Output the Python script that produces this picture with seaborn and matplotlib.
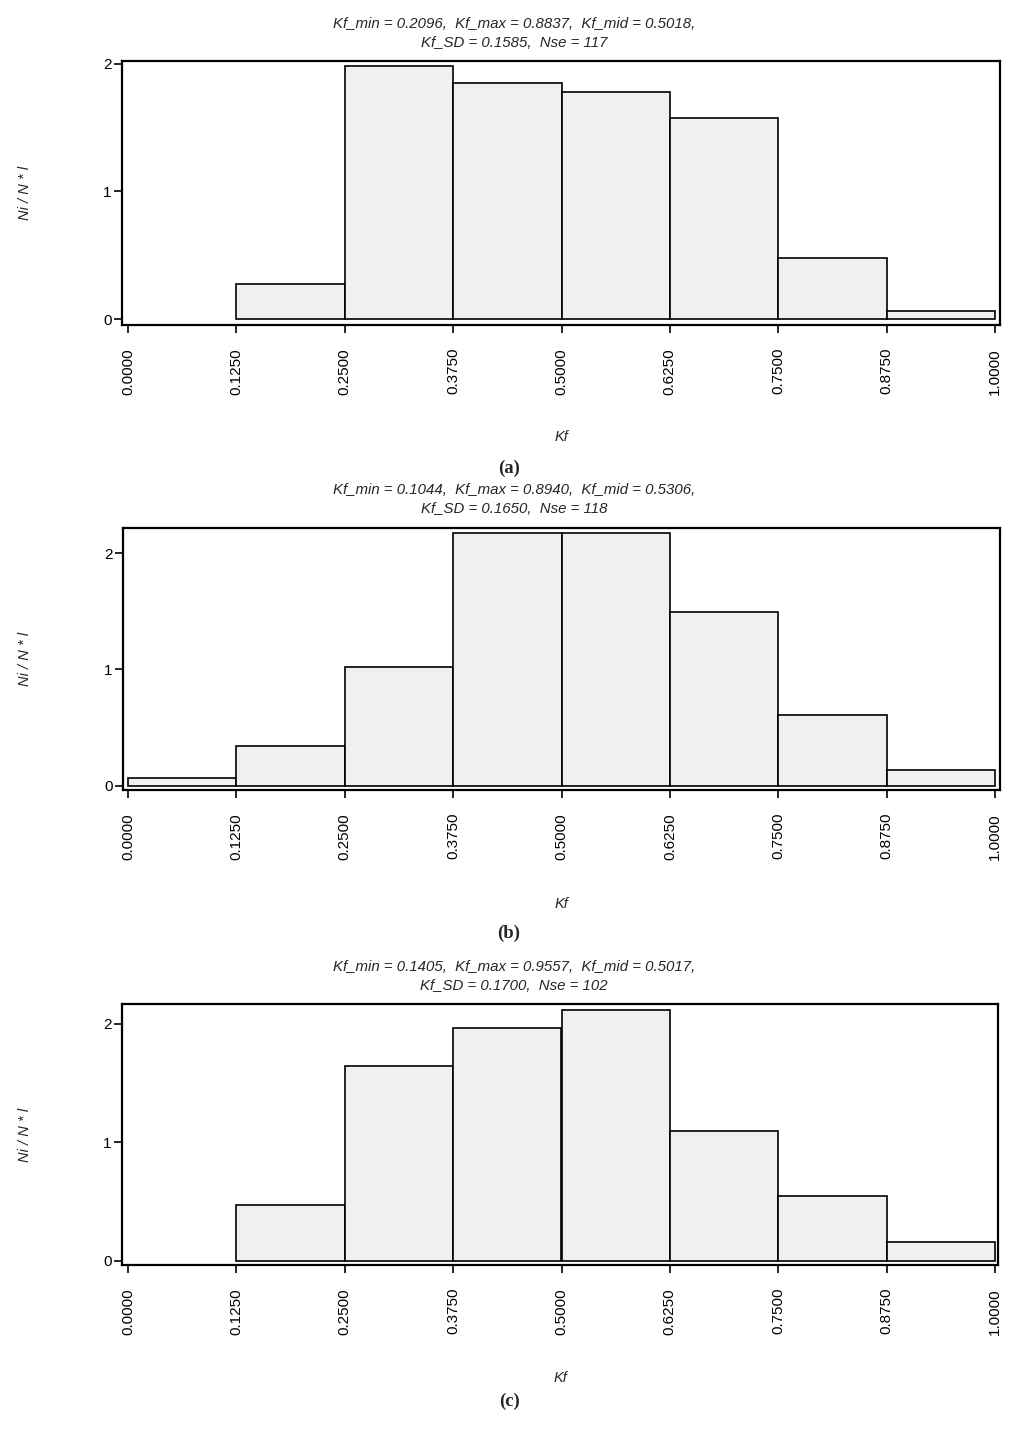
import numpy as np
import pandas as pd
import matplotlib
matplotlib.use("Agg")
import matplotlib.pyplot as plt
import seaborn as sns

# ---- data ----
bin_edges = [0.0, 0.125, 0.25, 0.375, 0.5, 0.625, 0.75, 0.875, 1.0]
tick_labels = ["0.0000", "0.1250", "0.2500", "0.3750", "0.5000",
               "0.6250", "0.7500", "0.8750", "1.0000"]
counts_a = [0, 4, 29, 27, 26, 23, 7, 1]
counts_b = [1, 5, 15, 32, 32, 22, 9, 2]
counts_c = [0, 6, 21, 25, 27, 14, 7, 2]
title_a = ["Kf_min = 0.2096,  Kf_max = 0.8837,  Kf_mid = 0.5018,",
           "Kf_SD = 0.1585,  Nse = 117"]
title_b = ["Kf_min = 0.1044,  Kf_max = 0.8940,  Kf_mid = 0.5306,",
           "Kf_SD = 0.1650,  Nse = 118"]
title_c = ["Kf_min = 0.1405,  Kf_max = 0.9557,  Kf_mid = 0.5017,",
           "Kf_SD = 0.1700,  Nse = 102"]
panel_tags = ["(a)", "(b)", "(c)"]

sns.set_style("ticks")
plt.rcParams["font.family"] = ["Liberation Sans", "DejaVu Sans"]

W, H = 1024, 1432
fig = plt.figure(figsize=(W / 100, H / 100), dpi=100)

# pixel layout: (frame_left, frame_right, frame_top, frame_bottom, ylim_top, ylim_bot, title_y, xlabel_y, tag_y)
layouts = [
    (122, 1000, 61, 325, 2.021, -0.045, 24, 437, 468),
    (123, 1000, 528, 790, 2.215, -0.037, 490, 904, 933),
    (122, 998, 1004, 1265, 2.166, -0.034, 967, 1378, 1401),
]
all_counts = [counts_a, counts_b, counts_c]
titles = [title_a, title_b, title_c]

centers = [(bin_edges[i] + bin_edges[i + 1]) / 2 for i in range(len(bin_edges) - 1)]

for k, (lay, counts, ttl, tag) in enumerate(zip(layouts, all_counts, titles, panel_tags)):
    fl, fr, ft, fb, ytop, ybot, ty, xly, tgy = lay
    ax = fig.add_axes([fl / W, 1 - fb / H, (fr - fl) / W, (fb - ft) / H])
    df = pd.DataFrame({"Kf": centers, "n": counts})
    sns.histplot(data=df, x="Kf", weights="n", bins=bin_edges, stat="density",
                 ax=ax, color="#f0f0f0", edgecolor="black", linewidth=1.2, alpha=1)
    for p in list(ax.patches):
        if p.get_height() == 0:
            p.remove()
    # x-range such that 0 and 1 sit at the measured pixels
    x0px, x1px = 128, 995
    per = (x1px - x0px)
    ax.set_xlim(-(x0px - fl) / per, 1 + (fr - x1px) / per)
    ax.set_ylim(ybot, ytop)
    ax.set_xticks(bin_edges)
    ax.set_xticklabels(tick_labels, rotation=90, fontsize=11)
    ax.set_yticks([0, 1, 2])
    ax.set_yticklabels(["0", "1", "2"], fontsize=11)
    ax.tick_params(axis="x", length=5.5, width=1.2, pad=11, colors="black")
    ax.tick_params(axis="y", length=6, width=1.2, pad=1.5, colors="black")
    for s in ax.spines.values():
        s.set_visible(True)
        s.set_linewidth(1.6)
        s.set_color("black")
    ax.set_xlabel("Kf", fontsize=10.5, style="italic")
    ax.xaxis.label.set_va("center")
    ax.xaxis.set_label_coords(0.5, -(xly - fb) / (fb - ft))
    ax.set_ylabel("Ni / N * l", fontsize=10.5, style="italic")
    ax.yaxis.label.set_va("center")
    ax.yaxis.set_label_coords(-(fl - 25) / (fr - fl), 0.5)
    fig.text(514 / W, 1 - ty / H, ttl[0], ha="center", va="center",
             fontsize=10.8, style="italic")
    fig.text(514 / W, 1 - (ty + 19) / H, ttl[1], ha="center", va="center",
             fontsize=10.8, style="italic")
    fig.text(509 / W, 1 - tgy / H, tag, ha="center", va="center",
             fontsize=13.5, fontweight="bold", family=["Liberation Serif", "DejaVu Serif"])

fig.savefig("out.png", dpi=100)
